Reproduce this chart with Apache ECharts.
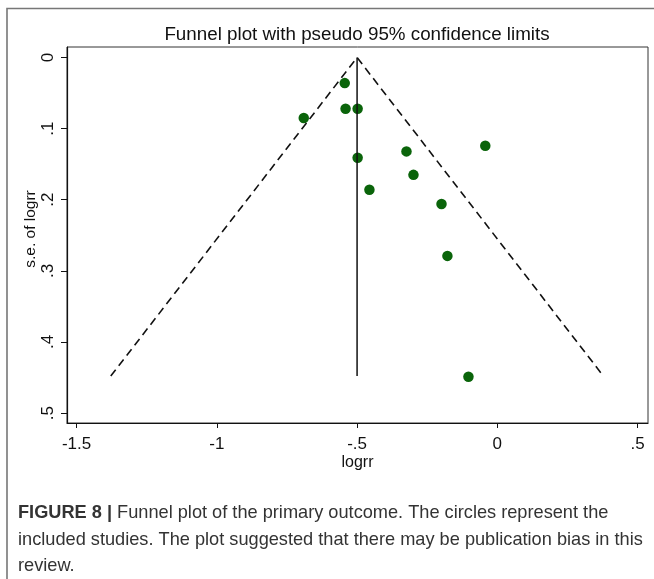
<!DOCTYPE html>
<html>
<head>
<meta charset="utf-8">
<script src="https://cdn.jsdelivr.net/npm/echarts@6/dist/echarts.min.js"></script>
<style>
html,body{margin:0;padding:0;background:#fff;}
#chart{width:654px;height:579px;}
</style>
</head>
<body>
<div id="chart"></div>
<script>
// Study estimates (log risk ratio) and their standard errors
var logrr = [-0.544, -0.541, -0.498, -0.690, -0.498, -0.324, -0.043, -0.299, -0.456, -0.199, -0.178, -0.103];
var seLogrr = [0.036, 0.072, 0.072, 0.085, 0.141, 0.132, 0.124, 0.165, 0.186, 0.206, 0.279, 0.449];
// Funnel (pseudo 95% limits) and pooled estimate line
var funnelX = [-1.378, -0.5, 0.378];
var funnelSe = [0.448, 0, 0.448];
var pooledX = [-0.5, -0.5];
var pooledSe = [0, 0.448];
// Axis ticks
var xTicks = [-1.5, -1, -0.5, 0, 0.5];
var yTicks = [0, 0.1, 0.2, 0.3, 0.4, 0.5];

var titleText = 'Funnel plot with pseudo 95% confidence limits';
var captionLines = [
  'Funnel plot of the primary outcome. The circles represent the',
  'included studies. The plot suggested that there may be publication bias in this',
  'review.'
];

function stataLabel(v) {
  var r = Math.round(v * 10) / 10;
  if (r === 0) return '0';
  var s = String(r);
  return s.replace(/^(-?)0\./, '$1.');
}

function pairs(xs, ys) {
  return xs.map(function (x, i) { return [x, ys[i]]; });
}

var chart = echarts.init(document.getElementById('chart'), null, {renderer: 'canvas'});
var FONT = 'Liberation Sans, Arial, sans-serif';

chart.setOption({
  animation: false,
  backgroundColor: '#fff',
  grid: {left: 67, top: 47, width: 581, height: 376, show: true, borderColor: '#333', borderWidth: 1, backgroundColor: 'transparent'},
  xAxis: {
    type: 'value', min: -1.534, max: 0.537,
    name: 'logrr', nameLocation: 'middle', nameGap: 32, nameMoveOverlap: false,
    nameTextStyle: {fontFamily: FONT, fontSize: 16, color: '#111'},
    axisLine: {show: true, onZero: false, lineStyle: {color: '#111', width: 1.2}},
    axisTick: {show: true, length: 5, customValues: xTicks, lineStyle: {color: '#111'}},
    axisLabel: {customValues: xTicks, margin: 13, fontFamily: FONT, fontSize: 17, color: '#111', formatter: stataLabel},
    splitLine: {show: false}
  },
  yAxis: {
    type: 'value', inverse: true, min: -0.0148, max: 0.514,
    name: 's.e. of logrr', nameLocation: 'middle', nameGap: 28, nameRotate: 90, nameMoveOverlap: false,
    nameTextStyle: {fontFamily: FONT, fontSize: 15.5, color: '#111', padding: [0, 0, 0, 12]},
    axisLine: {show: true, onZero: false, lineStyle: {color: '#111', width: 1.2}},
    axisTick: {show: true, length: 6, customValues: yTicks, lineStyle: {color: '#111'}},
    axisLabel: {customValues: yTicks, rotate: 90, margin: 10, fontFamily: FONT, fontSize: 17, color: '#111', formatter: stataLabel},
    splitLine: {show: false}
  },
  series: [
    {
      type: 'line', data: pairs(funnelX, funnelSe), symbol: 'none', silent: true,
      lineStyle: {color: '#111', width: 1.6, type: [8, 5]}
    },
    {
      type: 'line', data: pairs(pooledX, pooledSe), symbol: 'none', silent: true,
      lineStyle: {color: '#111', width: 1.5}
    },
    {
      type: 'scatter', data: pairs(logrr, seLogrr), symbol: 'circle', symbolSize: 10.5,
      itemStyle: {color: '#0a640a', opacity: 1}
    }
  ],
  graphic: [
    {type: 'polyline', shape: {points: [[7, 579], [7, 8.5], [654, 8.5]]}, style: {stroke: '#777', lineWidth: 1.6, fill: null}},
    {type: 'text', x: 357, y: 35, style: {text: titleText, fontFamily: FONT, fontSize: 18.8, fill: '#111', textAlign: 'center', textVerticalAlign: 'middle'}},
    {type: 'text', x: 18, y: 513, style: {
      text: '{b|FIGURE 8 |} ' + captionLines[0],
      fontFamily: FONT, fontSize: 18.2, fill: '#333', textAlign: 'left', textVerticalAlign: 'middle',
      rich: {b: {fontFamily: FONT, fontSize: 18.2, fontWeight: 'bold', fill: '#333'}}
    }},
    {type: 'text', x: 18, y: 540, style: {text: captionLines[1], fontFamily: FONT, fontSize: 18.2, fill: '#333', textAlign: 'left', textVerticalAlign: 'middle'}},
    {type: 'text', x: 18, y: 566, style: {text: captionLines[2], fontFamily: FONT, fontSize: 18.2, fill: '#333', textAlign: 'left', textVerticalAlign: 'middle'}}
  ]
});
</script>
</body>
</html>
